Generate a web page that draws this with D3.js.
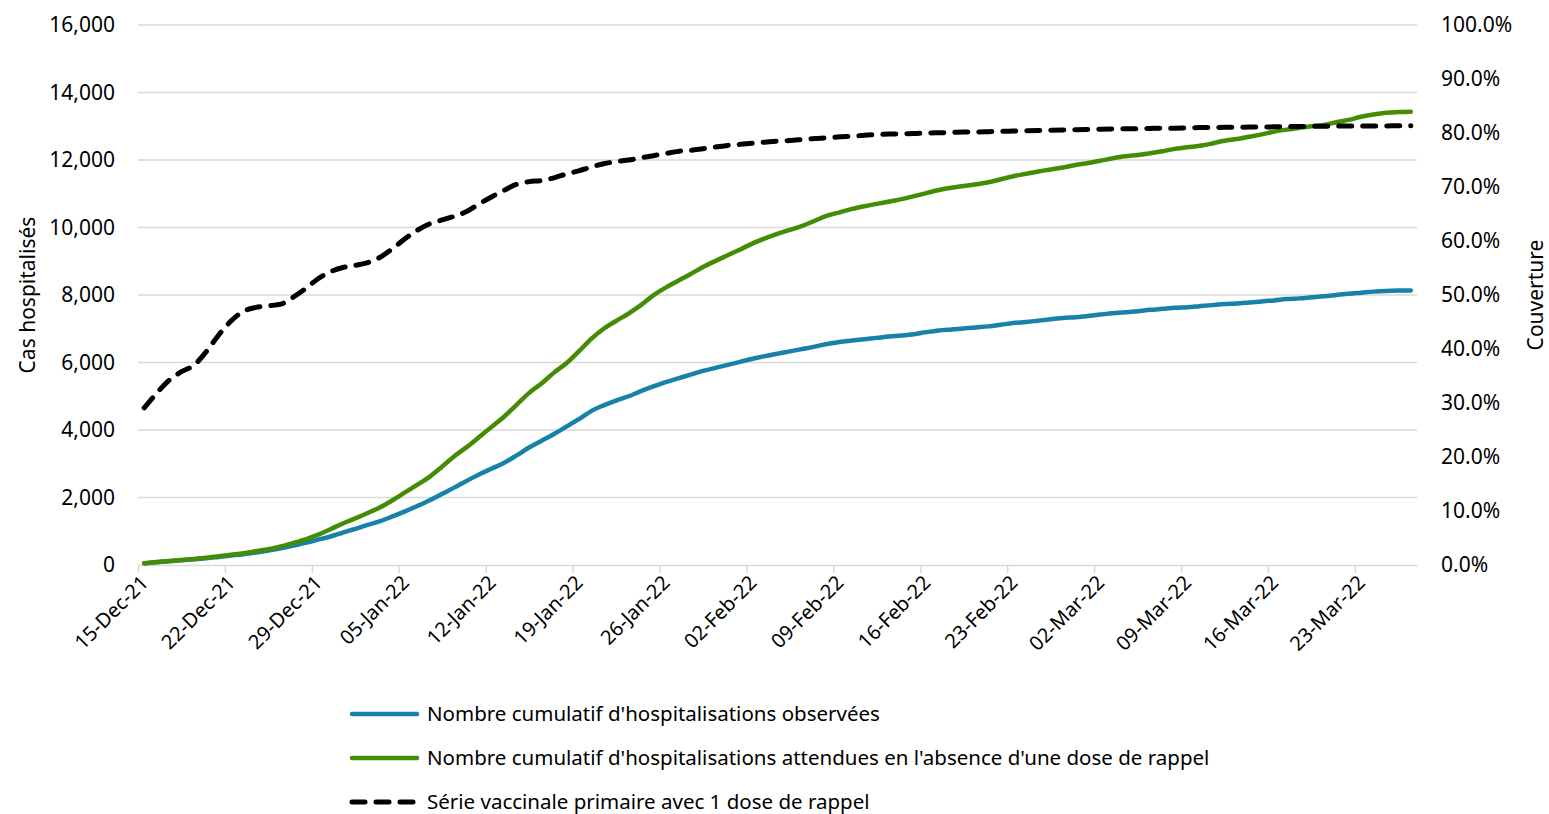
<!DOCTYPE html>
<html>
<head>
<meta charset="utf-8">
<script src="https://cdn.jsdelivr.net/npm/d3@7"></script>
<style>
  html, body { margin: 0; padding: 0; background: #fff; }
  svg { display: block; }
  text { font-family: "Noto Sans", "Open Sans", sans-serif; fill: #000; }
</style>
</head>
<body>
<svg id="chart" width="1549" height="814"></svg>
<script>
// ---------------- DATA ----------------
// Daily categories: 15-Dec-21 (index 0) to 27-Mar-22 (index 102)
const startDate = "2021-12-15";
const nDays = 103;
const tickLabels = ["15-Dec-21","22-Dec-21","29-Dec-21","05-Jan-22","12-Jan-22","19-Jan-22","26-Jan-22",
  "02-Feb-22","09-Feb-22","16-Feb-22","23-Feb-22","02-Mar-22","09-Mar-22","16-Mar-22","23-Mar-22"];
const yLeftTicks = [0,2000,4000,6000,8000,10000,12000,14000,16000];
const yRightTicks = [0,0.1,0.2,0.3,0.4,0.5,0.6,0.7,0.8,0.9,1.0];

// Nombre cumulatif d'hospitalisations observées
const observed = [50,80,110,140,170,200,240,280,320,370,
  425,495,575,655,750,845,960,1070,1190,1300,
  1440,1590,1750,1920,2110,2300,2500,2690,2860,3030,
  3250,3480,3680,3880,4100,4320,4560,4730,4870,5000,
  5150,5290,5420,5530,5640,5750,5840,5930,6020,6110,
  6190,6260,6330,6400,6470,6550,6610,6650,6690,6730,
  6770,6800,6840,6900,6950,6980,7010,7040,7070,7120,
  7170,7200,7240,7280,7320,7340,7380,7420,7460,7490,
  7520,7560,7590,7620,7640,7670,7700,7730,7750,7780,
  7810,7840,7880,7900,7930,7960,8000,8040,8070,8100,
  8120,8130,8135];

// Nombre cumulatif d'hospitalisations attendues en l'absence d'une dose de rappel
const expected = [50,90,120,150,180,215,260,305,350,410,
  470,550,650,760,900,1060,1230,1380,1540,1710,
  1920,2150,2380,2620,2920,3230,3500,3800,4100,4400,
  4750,5100,5380,5700,5980,6330,6700,7000,7230,7450,
  7700,7990,8220,8420,8620,8830,9010,9180,9350,9530,
  9680,9810,9930,10050,10200,10350,10450,10550,10630,10700,
  10770,10840,10930,11020,11110,11180,11230,11280,11340,11430,
  11520,11590,11660,11720,11780,11850,11910,11980,12050,12110,
  12150,12200,12260,12330,12380,12420,12490,12570,12620,12690,
  12760,12840,12900,12950,13000,13040,13120,13190,13280,13350,
  13400,13420,13430];

// Série vaccinale primaire avec 1 dose de rappel (couverture, %)
const coverage = [29.1,31.8,34.2,35.8,37.0,39.5,42.6,45.2,47.0,47.7,
  48.0,48.3,49.6,51.2,53.0,54.3,55.1,55.5,56.0,57.0,
  58.6,60.4,62.0,63.2,63.9,64.6,65.5,66.9,68.2,69.4,
  70.5,71.0,71.2,71.7,72.4,73.0,73.7,74.3,74.7,75.0,
  75.4,75.8,76.2,76.6,76.8,77.1,77.4,77.7,77.9,78.1,
  78.3,78.5,78.6,78.8,79.0,79.1,79.3,79.4,79.6,79.7,
  79.8,79.85,79.9,80.0,80.05,80.1,80.2,80.2,80.25,80.3,
  80.35,80.4,80.45,80.5,80.55,80.6,80.65,80.7,80.75,80.8,
  80.8,80.85,80.9,80.9,80.95,81.0,81.0,81.05,81.05,81.1,
  81.1,81.15,81.2,81.2,81.25,81.25,81.3,81.3,81.3,81.3,
  81.3,81.35,81.35];

const seriesNames = [
  "Nombre cumulatif d'hospitalisations observées",
  "Nombre cumulatif d'hospitalisations attendues en l'absence d'une dose de rappel",
  "Série vaccinale primaire avec 1 dose de rappel"
];
const colors = ["#1781aa", "#458c05", "#000000"];

// ---------------- CHART ----------------
const svg = d3.select("#chart");
const L = 138, R = 1417, T = 25, B = 565;

const x = d3.scaleLinear().domain([0, nDays]).range([L, R]);   // category edges
const yL = d3.scaleLinear().domain([0, 16000]).range([B, T]);
const yR = d3.scaleLinear().domain([0, 1]).range([B, T]);

// gridlines
svg.append("g").selectAll("line").data(yLeftTicks.slice(1)).join("line")
  .attr("x1", L).attr("x2", R)
  .attr("y1", d => yL(d)).attr("y2", d => yL(d))
  .attr("stroke", "#d9d9d9").attr("stroke-width", 1.5);

// x axis
const xAxis = svg.append("g").attr("transform", `translate(0,${B})`)
  .call(d3.axisBottom(x)
    .tickValues(d3.range(0, nDays, 7))
    .tickFormat((d, i) => tickLabels[i])
    .tickSize(8).tickSizeOuter(0));
xAxis.select(".domain").attr("stroke", "#d9d9d9").attr("stroke-width", 1.5);
xAxis.selectAll(".tick line").attr("stroke", "#d9d9d9").attr("stroke-width", 1.5);
xAxis.selectAll(".tick text")
  .attr("font-size", 20).attr("fill", "#000")
  .attr("text-anchor", "end")
  .attr("dy", 0).attr("y", 0)
  .attr("transform", "translate(11,19) rotate(-45)");

// left axis
const yAxisL = svg.append("g").attr("transform", `translate(${L},0)`)
  .call(d3.axisLeft(yL).tickValues(yLeftTicks).tickFormat(d3.format(",")).tickSize(0).tickPadding(23));
yAxisL.select(".domain").remove();
yAxisL.selectAll("text").attr("font-size", 21).attr("fill", "#000");

// right axis
const yAxisR = svg.append("g").attr("transform", `translate(${R},0)`)
  .call(d3.axisRight(yR).tickValues(yRightTicks).tickFormat(d3.format(".1%")).tickSize(0).tickPadding(24));
yAxisR.select(".domain").remove();
yAxisR.selectAll("text").attr("font-size", 21).attr("fill", "#000");

// axis titles
svg.append("text").attr("transform", `translate(35,${(T + B) / 2}) rotate(-90)`)
  .attr("text-anchor", "middle").attr("font-size", 21).text("Cas hospitalisés");
svg.append("text").attr("transform", `translate(1543,${(T + B) / 2}) rotate(-90)`)
  .attr("text-anchor", "middle").attr("font-size", 21).text("Couverture");

// lines
const cx = i => x(i + 0.5);
const lineL = d3.line().x((d, i) => cx(i)).y(d => yL(d)).curve(d3.curveMonotoneX);
const lineR = d3.line().x((d, i) => cx(i)).y(d => yR(d / 100)).curve(d3.curveMonotoneX);

svg.append("path").datum(observed).attr("d", lineL)
  .attr("fill", "none").attr("stroke", colors[0]).attr("stroke-width", 4.5)
  .attr("stroke-linecap", "round").attr("stroke-linejoin", "round");
svg.append("path").datum(expected).attr("d", lineL)
  .attr("fill", "none").attr("stroke", colors[1]).attr("stroke-width", 4.5)
  .attr("stroke-linecap", "round").attr("stroke-linejoin", "round");
svg.append("path").datum(coverage).attr("d", lineR)
  .attr("fill", "none").attr("stroke", colors[2]).attr("stroke-width", 5)
  .attr("stroke-dasharray", "13,11").attr("stroke-linecap", "round").attr("stroke-linejoin", "round");

// legend
const legY = [714, 758, 802];
const leg = svg.append("g");
seriesNames.forEach((name, k) => {
  const g = leg.append("g").attr("transform", `translate(0,${legY[k]})`);
  g.append("line").attr("x1", 352).attr("x2", 417).attr("y1", 0).attr("y2", 0)
    .attr("stroke", colors[k]).attr("stroke-width", k === 2 ? 5 : 4.5)
    .attr("stroke-linecap", "round")
    .attr("stroke-dasharray", k === 2 ? "13,11" : null);
  g.append("text").attr("x", 427).attr("y", 0).attr("dy", "0.35em")
    .attr("font-size", 20.5).text(name);
});
</script>
</body>
</html>
